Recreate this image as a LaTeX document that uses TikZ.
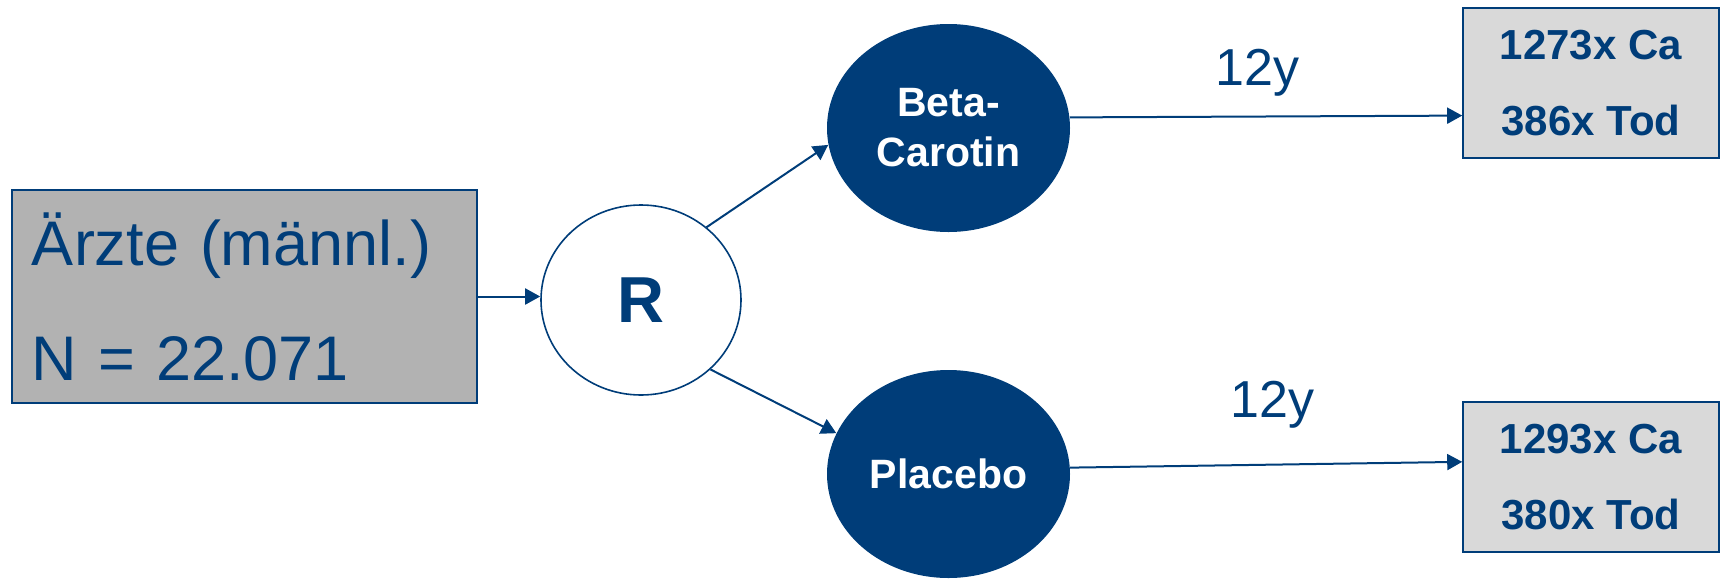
\documentclass[tikz,border=0pt]{standalone}
\usepackage{fontspec}
\setmainfont{Liberation Sans}
\usetikzlibrary{arrows.meta,shapes.geometric,calc}
\definecolor{navy}{RGB}{0,61,121}
\definecolor{darkgray}{RGB}{178,178,178}
\definecolor{lightgray}{RGB}{217,217,217}
\tikzset{
  conn/.style={draw=navy,line width=1pt,-{Triangle[length=7.5pt,width=8pt]}},
  startbox/.style={draw=navy,line width=1pt,fill=darkgray,rectangle,inner xsep=10pt,inner ysep=0pt,
    minimum height=106.5pt,text width=212.5pt,align=left,text=navy,font=\fontsize{31.5}{57.5}\selectfont},
  randcircle/.style={draw=navy,line width=0.8pt,fill=white,ellipse,minimum width=100pt,minimum height=95pt,
    inner sep=0pt,text=navy,font=\bfseries\fontsize{32.5}{36}\selectfont},
  armnode/.style={fill=navy,ellipse,minimum width=121.5pt,minimum height=104pt,inner sep=0pt,
    text=white,align=center,font=\bfseries\fontsize{20.5}{25}\selectfont},
  resultbox/.style={draw=navy,line width=0.8pt,fill=lightgray,rectangle,minimum width=128pt,minimum height=75pt,
    inner sep=0pt,text=navy,align=center,font=\bfseries\fontsize{21}{38}\selectfont},
  durlabel/.style={text=navy,inner sep=0pt,anchor=base west,font=\fontsize{26}{30}\selectfont}
}
\begin{document}
\begin{tikzpicture}
\useasboundingbox (0,0) rectangle (860pt,-289.5pt);
\node[startbox] (start) at (122.25pt,-148.25pt) {Ärzte (männl.)\\N = 22.071};
\node[randcircle] (R) at (320.5pt,-150pt) {R};
\node[armnode] (beta) at (474.25pt,-64pt) {Beta-\\Carotin};
\node[armnode] (plac) at (474.25pt,-237pt) {Placebo};
\node[resultbox] (ca1) at (795.5pt,-41.5pt) {1273x Ca\\386x Tod};
\node[resultbox] (ca2) at (795.5pt,-238.5pt) {1293x Ca\\380x Tod};
\node[durlabel] (y1) at (607.5pt,-42.5pt) {12y};
\node[durlabel] (y2) at (615pt,-208.5pt) {12y};
\draw[conn] (start.east) -- (R.west |- start.east);
\draw[conn] (R.48) -- (beta.188);
\draw[conn] (R.-45) -- (plac.160);
\draw[conn] (beta.5) -- ($(ca1.west)!0.43!(ca1.south west)$);
\draw[conn] (plac.3) -- ($(ca2.west)!0.2!(ca2.north west)$);
\end{tikzpicture}
\end{document}
